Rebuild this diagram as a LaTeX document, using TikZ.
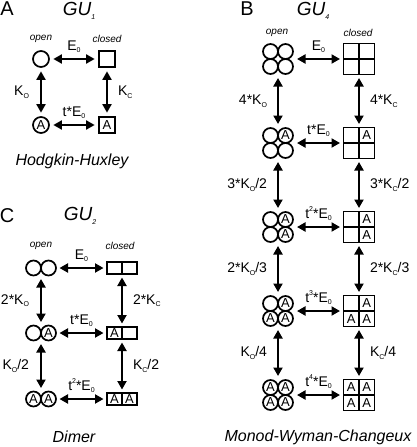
\documentclass[tikz,border=0pt]{standalone}
\usepackage{fontspec}
\setmainfont{Liberation Sans}
\usetikzlibrary{arrows.meta}

\newcommand{\subx}[1]{\raisebox{-0.35ex}{\fontsize{7}{7}\selectfont #1}}
\newcommand{\supx}[1]{\raisebox{0.95ex}{\fontsize{7}{7}\selectfont #1}}

\begin{document}
\begin{tikzpicture}[x=1pt, y=-1pt,
    panel/.style={font=\fontsize{20}{20}\selectfont, inner sep=0pt},
    title/.style={font=\fontsize{19}{19}\selectfont\itshape, inner sep=0pt},
    tag/.style={font=\fontsize{10}{10}\selectfont\itshape, inner sep=0pt},
    model/.style={font=\fontsize{16}{16}\selectfont\itshape, inner sep=0pt},
    lbl/.style={font=\fontsize{14}{14}\selectfont, inner sep=1pt},
    ring/.style={circle, draw, line width=1.7pt, minimum size=15pt, inner sep=0pt, font=\fontsize{13}{13}\selectfont},
    cell/.style={rectangle, draw, line width=1.7pt, minimum size=15.5pt, inner sep=0pt, font=\fontsize{13}{13}\selectfont},
    half/.style={cell, minimum width=15pt, minimum height=12pt},
    grp/.style={rectangle, inner sep=0pt, outer sep=0pt},
    arr/.style={{Triangle[length=8.5pt,width=9pt]}-{Triangle[length=8.5pt,width=9pt]}, line width=2pt, shorten <=3.5pt, shorten >=3.5pt}]
    \useasboundingbox (0,0) rectangle (416,447);

    % A: Hodgkin-Huxley
    \node[panel] (pA) at (7,9) {A};
    \node[title] (tA) at (79,11) {GU\subx{1}};
    \node[tag] at (41,39) {open};
    \node[tag] at (107,39) {closed};
    \node[ring, minimum size=16pt] (ao1) at (41,59) {};
    \node[cell, minimum size=16pt] (ac1) at (107,59) {};
    \node[ring, minimum size=16pt] (ao2) at (41,125) {A};
    \node[cell, minimum size=16pt] (ac2) at (107,125) {A};
    \draw[arr] (ao1) -- node[lbl, above=4pt] {E\subx{0}} (ac1);
    \draw[arr] (ao2) -- node[lbl, above=4pt] {t*E\subx{0}} (ac2);
    \draw[arr] (ao1) -- node[lbl, left=10pt] {K\subx{O}} (ao2);
    \draw[arr] (ac1) -- node[lbl, right=9pt] {K\subx{C}} (ac2);
    \node[model] at (72,161) {Hodgkin-Huxley};

    % C: Dimer
    \node[panel] (pC) at (7,216) {C};
    \node[title] (tC) at (80,216) {GU\subx{2}};
    \node[tag] at (41,246) {open};
    \node[tag] at (120,246) {closed};
    \foreach \r/\y/\lt/\rt in {1/268/{}/{}, 2/333/{}/A, 3/399/A/A} {
        \node[grp, minimum width=30pt, minimum height=15pt] (co\r) at (41,\y) {};
        \node[grp, minimum width=30pt, minimum height=12pt] (cc\r) at (122,\y) {};
        \node[ring] at (33.5,\y) {\lt};
        \node[ring] at (48.5,\y) {\rt};
        \node[half] at (114.5,\y) {\rt};
        \node[half] at (129.5,\y) {\lt};
      }
    \draw[arr] (co1) -- node[lbl, above=4pt] {E\subx{0}} (cc1);
    \draw[arr] (co2) -- node[lbl, above=4pt] {t*E\subx{0}} (cc2);
    \draw[arr] (co3) -- node[lbl, above=4pt] {t\supx{2}*E\subx{0}} (cc3);
    \draw[arr] (co1) -- node[lbl, left=10pt] {2*K\subx{O}} (co2);
    \draw[arr] (cc1) -- node[lbl, right=9pt] {2*K\subx{C}} (cc2);
    \draw[arr] (co2) -- node[lbl, left=10pt] {K\subx{O}/2} (co3);
    \draw[arr] (cc2) -- node[lbl, right=9pt] {K\subx{C}/2} (cc3);
    \node[model] at (74,437) {Dimer};

    % B: Monod-Wyman-Changeux
    \node[panel] (pB) at (247,9) {B};
    \node[title] (tB) at (313,11) {GU\subx{4}};
    \node[tag] at (277,33) {open};
    \node[tag] at (358,33) {closed};
    \foreach \r/\y/\tl/\tr/\bl/\br in {1/59/{}/{}/{}/{}, 2/143/{}/A/{}/{}, 3/227/{}/A/{}/A, 4/311/{}/A/A/A, 5/395/A/A/A/A} {
        \node[grp, minimum size=31pt] (bo\r) at (278,\y) {};
        \node[grp, minimum size=31pt] (bc\r) at (359,\y) {};
        \node[ring] at (270.5,{\y-7.5}) {\tl};
        \node[ring] at (285.5,{\y-7.5}) {\tr};
        \node[ring] at (270.5,{\y+7.5}) {\bl};
        \node[ring] at (285.5,{\y+7.5}) {\br};
        \node[cell] at (351.25,{\y-7.75}) {\tl};
        \node[cell] at (366.75,{\y-7.75}) {\tr};
        \node[cell] at (351.25,{\y+7.75}) {\bl};
        \node[cell] at (366.75,{\y+7.75}) {\br};
      }
    \foreach \r/\h in {1/{E\subx{0}}, 2/{t*E\subx{0}}, 3/{t\supx{2}*E\subx{0}}, 4/{t\supx{3}*E\subx{0}}, 5/{t\supx{4}*E\subx{0}}}
      \draw[arr] (bo\r) -- node[lbl, above=4pt] {\h} (bc\r);
    \foreach \a/\b/\ko/\kc in {1/2/{4*K\subx{O}}/{4*K\subx{C}}, 2/3/{3*K\subx{O}/2}/{3*K\subx{C}/2}, 3/4/{2*K\subx{O}/3}/{2*K\subx{C}/3}, 4/5/{K\subx{O}/4}/{K\subx{C}/4}} {
        \draw[arr] (bo\a) -- node[lbl, left=9pt] {\ko} (bo\b);
        \draw[arr] (bc\a) -- node[lbl, right=9pt] {\kc} (bc\b);
      }
    \node[model] at (318,437) {Monod-Wyman-Changeux};
  \end{tikzpicture}
\end{document}
